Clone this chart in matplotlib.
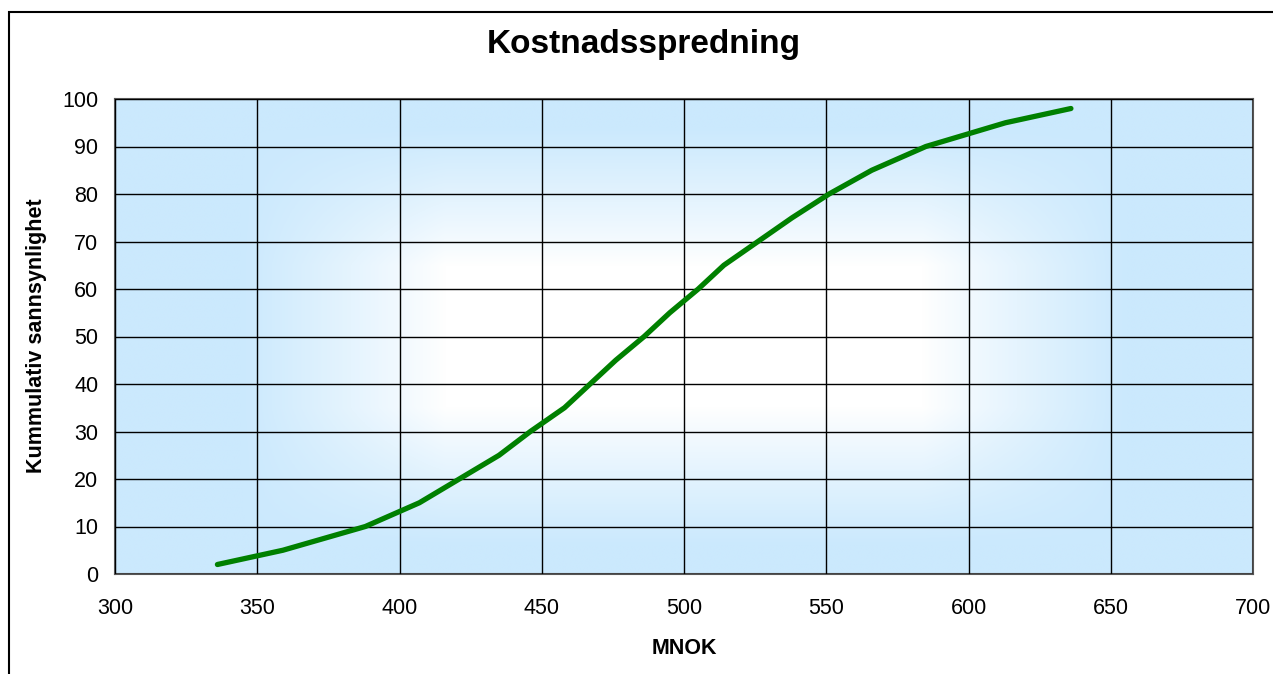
import numpy as np
import matplotlib
matplotlib.use("Agg")
import matplotlib.pyplot as plt
from matplotlib.colors import LinearSegmentedColormap
from matplotlib.patches import Rectangle

# Cumulative cost distribution (MNOK vs cumulative probability in %)
cost_mnok = [336, 359, 388, 407, 421, 435, 446, 458, 467, 476, 486,
             495, 505, 514, 526, 538, 551, 566, 585, 613, 636]
cum_prob = [2, 5, 10, 15, 20, 25, 30, 35, 40, 45, 50,
            55, 60, 65, 70, 75, 80, 85, 90, 95, 98]

x_ticks = [300, 350, 400, 450, 500, 550, 600, 650, 700]
y_ticks = [0, 10, 20, 30, 40, 50, 60, 70, 80, 90, 100]

plt.rcParams['font.family'] = ['Liberation Sans', 'DejaVu Sans']

W, H = 1273, 674
fig = plt.figure(figsize=(W / 100, H / 100), dpi=100)
fig.patch.set_facecolor('white')

# Outer chart frame
fig.add_artist(Rectangle((9 / W, -0.1), 1.2, 1 - 12 / H + 0.1,
                         transform=fig.transFigure, fill=False,
                         edgecolor='black', linewidth=1.5))

ax = fig.add_axes([115 / W, 100 / H, (1253 - 115) / W, (574 - 99) / H])

# Plot-area fill: light blue at the edges fading to white in the centre
nx, ny = 600, 300
gx = np.linspace(-1, 1, nx)
gy = np.linspace(-1, 1, ny)
X, Y = np.meshgrid(gx, gy)
tx = np.clip((np.abs(X) - 0.42) / 0.36, 0, 1)
ty = np.clip((np.abs(Y) - 0.30) / 0.58, 0, 1)
t = 1 - (1 - tx) * (1 - ty)
t = t ** 0.9
cmap = LinearSegmentedColormap.from_list('bg', ['#ffffff', '#cbe9fd'])
ax.imshow(t, cmap=cmap, vmin=0, vmax=1, extent=[300, 700, 0, 100],
          aspect='auto', origin='lower', zorder=0, interpolation='bilinear')

ax.set_xlim(300, 700)
ax.set_ylim(0, 100)
ax.set_xticks(x_ticks)
ax.set_yticks(y_ticks)
ax.grid(True, color='black', linewidth=1.0, zorder=1)
ax.set_axisbelow(False)
ax.tick_params(length=0, labelsize=15.5)
ax.tick_params(axis='x', pad=17)
ax.tick_params(axis='y', pad=12)
for s in ax.spines.values():
    s.set_color('#555555')
    s.set_linewidth(1.5)

ax.plot(cost_mnok, cum_prob, color='#008000', linewidth=3.8,
        solid_capstyle='round', solid_joinstyle='round', zorder=3)

fig.text(644 / W, 1 - 44 / H, 'Kostnadsspredning', ha='center', va='center',
         fontsize=24, fontweight='bold')
fig.text(684 / W, 1 - 648 / H, 'MNOK', ha='center', va='center',
         fontsize=15.5, fontweight='bold')
fig.text(37 / W, 1 - 336 / H, 'Kummulativ sannsynlighet', ha='center',
         va='center', rotation=90, fontsize=15.5, fontweight='bold')

fig.savefig('out.png', dpi=100)
